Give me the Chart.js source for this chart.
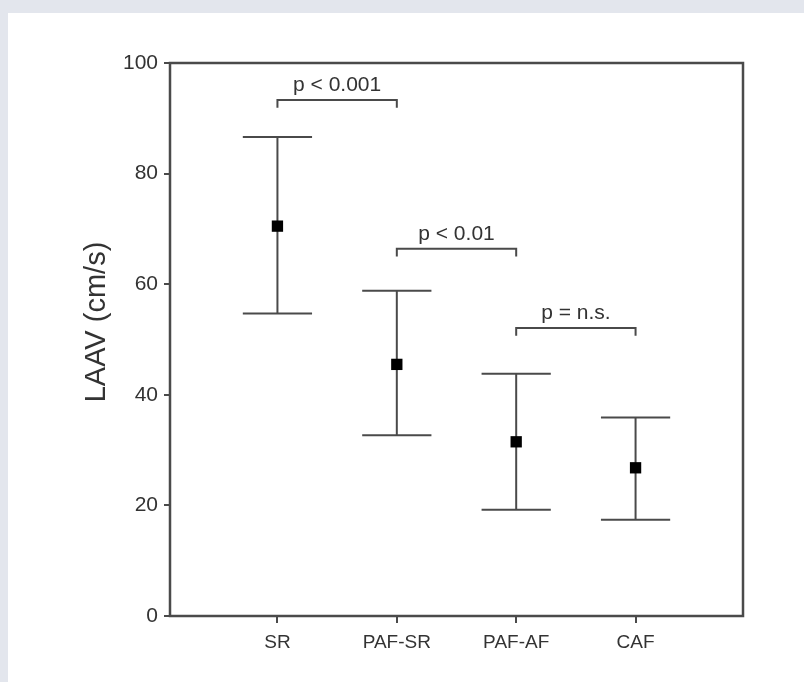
<!DOCTYPE html>
<html>
<head>
<meta charset="utf-8">
<script src="https://cdn.jsdelivr.net/npm/chart.js@4.4.1/dist/chart.umd.min.js"></script>
<style>
  html, body { margin: 0; padding: 0; background: #ffffff; }
  #wrap { width: 804px; height: 682px; position: relative; }
</style>
</head>
<body>
<div id="wrap"><canvas id="laav-chart" width="804" height="682"></canvas></div>
<script>
// LAAV by rhythm group: mean with upper/lower whiskers
const groups = ['SR', 'PAF-SR', 'PAF-AF', 'CAF'];
const means = [70.5, 45.5, 31.5, 26.8];
const upper = [86.6, 58.8, 43.8, 35.9];
const lower = [54.7, 32.7, 19.2, 17.4];

// significance brackets between neighbouring groups
const bracketFrom = [0, 1, 2];
const bracketTo = [1, 2, 3];
const bracketY = [93.3, 66.4, 52.1];
const bracketText = ['p < 0.001', 'p < 0.01', 'p = n.s.'];

const yTicks = [0, 20, 40, 60, 80, 100];

const ink = '#4a4a4a';
const textInk = '#333333';
const fontFamily = '"Liberation Sans", Arial, Helvetica, sans-serif';
const capHalf = 0.29;
const bracketDrop = 1.4;

function segment(points) {
    return {
        type: 'line',
        data: points,
        borderColor: ink,
        borderWidth: 2,
        pointRadius: 0,
        fill: false,
        tension: 0
    };
}

const datasets = [];
groups.forEach((g, i) => {
    datasets.push(segment([{ x: i, y: lower[i] }, { x: i, y: upper[i] }]));
    datasets.push(segment([{ x: i - capHalf, y: upper[i] }, { x: i + capHalf, y: upper[i] }]));
    datasets.push(segment([{ x: i - capHalf, y: lower[i] }, { x: i + capHalf, y: lower[i] }]));
});
bracketY.forEach((b, k) => {
    datasets.push(segment([
        { x: bracketFrom[k], y: b - bracketDrop },
        { x: bracketFrom[k], y: b },
        { x: bracketTo[k], y: b },
        { x: bracketTo[k], y: b - bracketDrop }
    ]));
});
// mean markers sit on top of the whiskers
datasets.push({
    type: 'scatter',
    order: -1,
    data: means.map((m, i) => ({ x: i, y: m })),
    pointStyle: 'rect',
    pointRadius: 8,
    backgroundColor: '#000000',
    borderColor: '#000000',
    borderWidth: 0
});

// page backdrop, plot frame, axis title and bracket labels
const decorations = {
    id: 'decorations',
    beforeDraw(chart) {
        const ctx = chart.ctx;
        ctx.save();
        ctx.fillStyle = '#e3e6ed';
        ctx.fillRect(0, 0, chart.width, chart.height);
        ctx.fillStyle = '#ffffff';
        ctx.fillRect(8, 13, chart.width - 8, chart.height - 13);
        ctx.restore();
    },
    afterDraw(chart) {
        const ctx = chart.ctx;
        const { left, right, top, bottom } = chart.chartArea;
        const xs = chart.scales.x;
        const ys = chart.scales.y;
        ctx.save();
        ctx.strokeStyle = ink;
        ctx.lineWidth = 2.5;
        ctx.strokeRect(left, top, right - left, bottom - top);

        ctx.fillStyle = textInk;
        ctx.font = '21px ' + fontFamily;
        ctx.textAlign = 'center';
        ctx.textBaseline = 'alphabetic';
        bracketText.forEach((t, k) => {
            const cx = (xs.getPixelForValue(bracketFrom[k]) + xs.getPixelForValue(bracketTo[k])) / 2;
            const cy = ys.getPixelForValue(bracketY[k]) - 9;
            ctx.fillText(t, cx, cy);
        });

        ctx.translate(97, 322);
        ctx.rotate(-Math.PI / 2);
        ctx.font = '29px ' + fontFamily;
        ctx.textBaseline = 'middle';
        ctx.fillText('LAAV (cm/s)', 0, 0);
        ctx.restore();
    }
};

new Chart(document.getElementById('laav-chart'), {
    type: 'scatter',
    data: { datasets: datasets },
    options: {
        responsive: false,
        animation: false,
        layout: { padding: { top: 63, right: 61, bottom: 0, left: 0 } },
        scales: {
            x: {
                type: 'linear',
                min: -0.9,
                max: 3.9,
                afterFit: (s) => { s.height = 66; },
                afterBuildTicks: (s) => { s.ticks = groups.map((g, i) => ({ value: i })); },
                border: { display: false },
                grid: { drawOnChartArea: false, drawTicks: true, tickLength: 7, color: ink, lineWidth: 2 },
                ticks: {
                    color: textInk,
                    padding: 8,
                    font: { family: fontFamily, size: 19 },
                    callback: (v) => groups[v] ?? ''
                }
            },
            y: {
                min: 0,
                max: 100,
                afterFit: (s) => { s.width = 170; },
                afterBuildTicks: (s) => { s.ticks = yTicks.map(v => ({ value: v })); },
                border: { display: false },
                grid: { drawOnChartArea: false, drawTicks: true, tickLength: 6, color: ink, lineWidth: 2 },
                ticks: {
                    color: textInk,
                    padding: 6,
                    font: { family: fontFamily, size: 21 }
                }
            }
        },
        plugins: {
            legend: { display: false },
            tooltip: { enabled: false }
        }
    },
    plugins: [decorations]
});
</script>
</body>
</html>
